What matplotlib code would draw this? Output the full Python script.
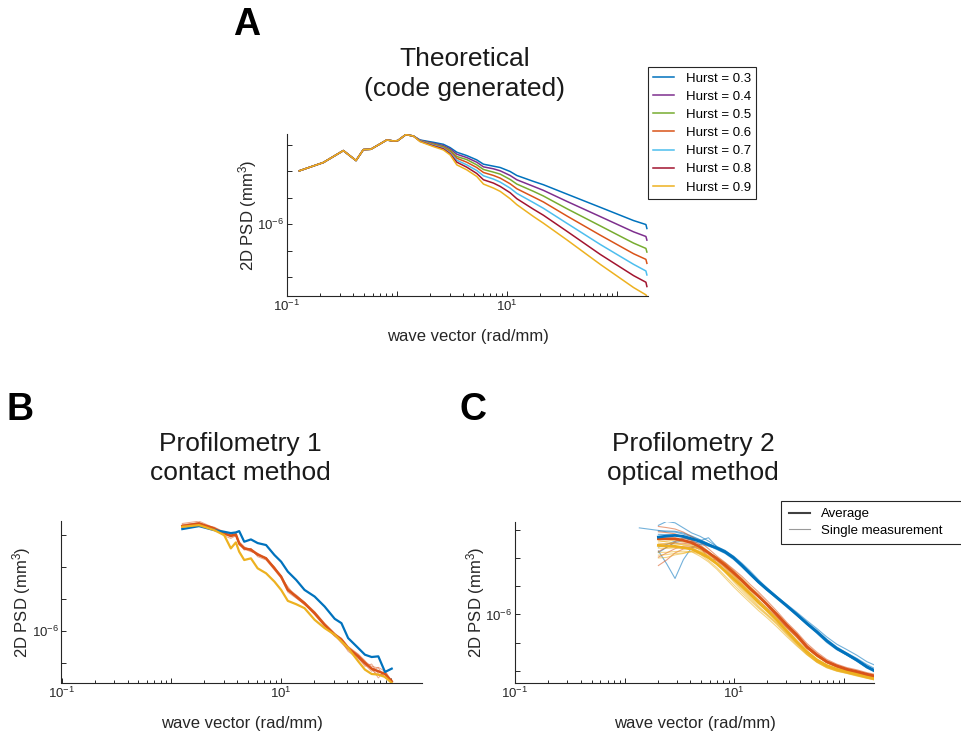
import matplotlib

matplotlib.use("Agg")
import matplotlib.pyplot as plt
import numpy as np
from matplotlib.lines import Line2D
from matplotlib.ticker import FixedFormatter, FixedLocator, NullFormatter, NullLocator

plt.rcParams["font.family"] = ["Liberation Sans", "DejaVu Sans"]

BLUE = "#0072BD"
ORANGE = "#D95319"
YELLOW = "#EDB120"
PURPLE = "#7E2F8E"
GREEN = "#77AC30"
CYAN = "#4DBEEE"
RED = "#A2142F"
INK = "#262626"

# ---- Panel A: theoretical spectra (log10 of q and of PSD) ----
hurst = [0.3, 0.4, 0.5, 0.6, 0.7, 0.8, 0.9]
hurst_colors = [BLUE, PURPLE, GREEN, ORANGE, CYAN, RED, YELLOW]

# low-q part, identical for every Hurst exponent
log_q_shared = [-0.888, -0.670, -0.488, -0.373, -0.306, -0.239, -0.155, -0.094,
                -0.033, 0.006, 0.079, 0.148]
log_psd_shared = [-3.981, -3.668, -3.217, -3.593, -3.179, -3.167, -2.966, -2.816,
                  -2.853, -2.841, -2.615, -2.665]

log_q_tail = [0.209, 0.330, 0.421, 0.482, 0.543, 0.633, 0.724, 0.785, 0.876, 0.937,
              1.027, 1.088, 1.240, 1.330, 1.542, 1.846, 2.149, 2.261, 2.270]
log_psd_h03 = [-2.816, -2.904, -2.979, -3.104, -3.279, -3.405, -3.568, -3.731, -3.806,
               -3.856, -4.006, -4.157, -4.382, -4.507, -4.858, -5.359, -5.861, -6.011,
               -6.161]
log_psd_h04 = [-2.828, -2.941, -3.029, -3.154, -3.355, -3.480, -3.655, -3.831, -3.906,
               -3.981, -4.157, -4.319, -4.570, -4.720, -5.134, -5.710, -6.287, -6.462,
               -6.600]
log_psd_h05 = [-2.841, -2.966, -3.066, -3.204, -3.442, -3.555, -3.756, -3.931, -4.031,
               -4.106, -4.307, -4.482, -4.758, -4.933, -5.410, -6.061, -6.713, -6.913,
               -7.051]
log_psd_h06 = [-2.853, -2.991, -3.104, -3.254, -3.505, -3.655, -3.856, -4.044, -4.157,
               -4.257, -4.470, -4.658, -4.971, -5.159, -5.685, -6.412, -7.114, -7.327,
               -7.477]
log_psd_h07 = [-2.853, -3.016, -3.129, -3.305, -3.580, -3.756, -3.969, -4.169, -4.294,
               -4.407, -4.633, -4.833, -5.184, -5.397, -5.961, -6.763, -7.515, -7.765,
               -7.916]
log_psd_h08 = [-2.866, -3.041, -3.154, -3.342, -3.655, -3.843, -4.081, -4.319, -4.445,
               -4.570, -4.808, -5.034, -5.435, -5.660, -6.262, -7.139, -7.941, -8.191,
               -8.354]
log_psd_h09 = [-2.879, -3.066, -3.192, -3.380, -3.756, -3.944, -4.194, -4.482, -4.633,
               -4.758, -5.034, -5.259, -5.710, -5.961, -6.587, -7.515, -8.392, -8.667,
               -8.730]
hurst_tails = [log_psd_h03, log_psd_h04, log_psd_h05, log_psd_h06, log_psd_h07,
               log_psd_h08, log_psd_h09]

# ---- Panel B: contact profilometry ----
log_q_contact = [0.100, 0.252, 0.390, 0.481, 0.542, 0.588, 0.618, 0.664, 0.725, 0.786,
                 0.863, 0.939, 1.000, 1.061, 1.137, 1.213, 1.305, 1.396, 1.488, 1.549,
                 1.610, 1.702, 1.763, 1.824, 1.885, 1.946, 2.007]
contact_blue = [-2.827, -2.734, -2.859, -2.910, -2.952, -2.931, -2.890, -3.221, -3.149,
                -3.263, -3.325, -3.636, -3.844, -4.155, -4.414, -4.725, -4.932, -5.243,
                -5.627, -5.762, -6.228, -6.539, -6.747, -6.819, -6.798, -7.286, -7.182]
contact_orange = [-2.734, -2.651, -2.807, -2.962, -3.035, -2.993, -3.273, -3.429, -3.470,
                  -3.615, -3.740, -4.051, -4.310, -4.725, -4.932, -5.140, -5.451, -5.813,
                  -6.124, -6.280, -6.539, -6.798, -7.006, -7.182, -7.265, -7.348, -7.576]
contact_yellow = [-2.755, -2.703, -2.859, -3.014, -3.429, -3.242, -3.532, -3.792, -3.740,
                  -4.051, -4.206, -4.466, -4.725, -5.067, -5.171, -5.295, -5.658, -5.917,
                  -6.124, -6.332, -6.539, -6.954, -7.213, -7.348, -7.369, -7.441, -7.628]
contact_orange_runs = [
    [-2.651, -2.579, -2.786, -2.993, -3.066, -3.014, -3.304, -3.408, -3.512, -3.636,
     -3.719, -4.030, -4.279, -4.673, -4.880, -5.108, -5.399, -5.762, -6.073, -6.249,
     -6.518, -6.747, -6.954, -7.109, -7.161, -7.472, -7.555],
    [-2.703, -2.620, -2.827, -3.035, -3.118, -3.035, -3.242, -3.481, -3.429, -3.688,
     -3.792, -4.103, -4.362, -4.797, -4.984, -5.171, -5.502, -5.865, -6.176, -6.332,
     -6.643, -6.871, -7.058, -7.265, -7.141, -7.265, -7.628],
    [-2.786, -2.703, -2.848, -2.931, -3.014, -2.962, -3.325, -3.450, -3.532, -3.584,
     -3.761, -3.999, -4.341, -4.621, -4.963, -5.191, -5.419, -5.793, -6.145, -6.384,
     -6.591, -6.829, -7.109, -7.037, -7.348, -7.420, -7.524],
    [-2.755, -2.672, -2.765, -2.910, -3.076, -2.983, -3.221, -3.377, -3.491, -3.636,
     -3.719, -4.072, -4.289, -4.756, -4.901, -5.108, -5.482, -5.834, -6.104, -6.228,
     -6.487, -6.726, -6.933, -7.213, -7.389, -7.327, -7.597],
    [-2.682, -2.641, -2.807, -2.973, -2.993, -3.056, -3.284, -3.429, -3.450, -3.657,
     -3.740, -4.051, -4.320, -4.694, -4.922, -5.150, -5.461, -5.813, -6.145, -6.311,
     -6.560, -6.850, -7.037, -7.161, -7.472, -7.244, -7.576],
]

# ---- Panel C: optical profilometry ----
log_q_optical = [0.309, 0.385, 0.461, 0.537, 0.613, 0.690, 0.766, 0.842, 0.918, 0.994,
                 1.070, 1.146, 1.222, 1.298, 1.390, 1.481, 1.572, 1.664, 1.755, 1.846,
                 1.938, 2.029, 2.120, 2.212, 2.282]
log_q_optical_long = [0.135] + log_q_optical

optical_blue_avg = [-3.247, -3.212, -3.188, -3.223, -3.306, -3.401, -3.519, -3.637, -3.779,
                    -3.980, -4.252, -4.547, -4.843, -5.103, -5.398, -5.694, -6.001, -6.320,
                    -6.616, -6.935, -7.207, -7.408, -7.620, -7.857, -7.999]
optical_orange_avg = [-3.306, -3.306, -3.306, -3.365, -3.448, -3.602, -3.803, -4.015,
                      -4.252, -4.512, -4.784, -5.079, -5.351, -5.635, -6.001, -6.379,
                      -6.734, -7.148, -7.443, -7.680, -7.833, -7.951, -8.034, -8.129,
                      -8.188]
optical_yellow_avg = [-3.543, -3.566, -3.578, -3.625, -3.673, -3.814, -3.980, -4.193,
                      -4.453, -4.725, -4.996, -5.280, -5.576, -5.847, -6.202, -6.592,
                      -6.970, -7.325, -7.620, -7.821, -7.951, -8.034, -8.117, -8.211,
                      -8.271]

optical_blue_runs = [
    [-2.83, -2.69, -2.74, -2.92, -3.10, -3.22, -3.39, -3.58, -3.73, -3.92, -4.17, -4.45,
     -4.76, -5.05, -5.36, -5.64, -5.92, -6.22, -6.50, -6.80, -7.06, -7.25, -7.45, -7.68,
     -7.80],
    [-3.74, -4.20, -4.72, -4.05, -3.62, -3.50, -3.57, -3.66, -3.80, -3.99, -4.26, -4.56,
     -4.85, -5.11, -5.40, -5.70, -6.01, -6.33, -6.63, -6.95, -7.22, -7.42, -7.63, -7.87,
     -8.01],
    [-3.15, -3.16, -3.17, -3.25, -3.36, -3.38, -3.27, -3.59, -3.72, -3.94, -4.23, -4.55,
     -4.86, -5.13, -5.42, -5.69, -5.99, -6.30, -6.62, -6.96, -7.23, -7.44, -7.65, -7.90,
     -8.03],
    [-3.60, -3.51, -3.39, -3.30, -3.33, -3.40, -3.55, -3.69, -3.83, -4.04, -4.31, -4.60,
     -4.87, -5.12, -5.44, -5.74, -6.04, -6.35, -6.64, -6.96, -7.24, -7.45, -7.67, -7.91,
     -8.05],
    [-3.80, -3.61, -3.44, -3.37, -3.41, -3.46, -3.54, -3.62, -3.75, -3.96, -4.22, -4.51,
     -4.79, -5.04, -5.35, -5.66, -5.98, -6.32, -6.63, -6.95, -7.21, -7.39, -7.59, -7.84,
     -7.98],
    [-3.03, -3.03, -3.04, -3.10, -3.21, -3.34, -3.48, -3.64, -3.80, -4.01, -4.27, -4.55,
     -4.82, -5.07, -5.38, -5.69, -6.02, -6.36, -6.67, -7.00, -7.26, -7.45, -7.65, -7.89,
     -8.02],
]
# one blue run starts at a lower wave vector
optical_blue_run_long = [-2.92, -3.01, -3.06, -3.07, -3.14, -3.24, -3.35, -3.49, -3.62,
                         -3.76, -3.95, -4.21, -4.51, -4.81, -5.09, -5.40, -5.67, -5.96,
                         -6.27, -6.56, -6.88, -7.16, -7.37, -7.56, -7.78, -7.92]

optical_orange_runs = [
    [-2.87, -2.91, -2.96, -3.07, -3.23, -3.42, -3.66, -3.92, -4.15, -4.39, -4.64, -4.93,
     -5.20, -5.50, -5.88, -6.28, -6.63, -7.03, -7.34, -7.60, -7.77, -7.89, -7.97, -8.07,
     -8.13],
    [-3.06, -3.09, -3.13, -3.25, -3.35, -3.52, -3.76, -4.04, -4.30, -4.57, -4.83, -5.12,
     -5.37, -5.64, -5.98, -6.35, -6.71, -7.15, -7.46, -7.70, -7.84, -7.95, -8.03, -8.12,
     -8.19],
    [-3.96, -3.81, -3.66, -3.57, -3.57, -3.65, -3.80, -3.97, -4.17, -4.43, -4.72, -5.04,
     -5.33, -5.64, -6.03, -6.43, -6.79, -7.20, -7.48, -7.71, -7.86, -7.98, -8.07, -8.17,
     -8.23],
    [-4.26, -4.06, -3.81, -3.67, -3.60, -3.68, -3.86, -4.10, -4.35, -4.63, -4.92, -5.23,
     -5.49, -5.76, -6.10, -6.46, -6.79, -7.19, -7.47, -7.72, -7.88, -8.00, -8.08, -8.18,
     -8.24],
    [-3.76, -3.61, -3.41, -3.27, -3.37, -3.60, -4.00, -4.07, -4.27, -4.51, -4.75, -5.02,
     -5.27, -5.58, -5.95, -6.34, -6.68, -7.09, -7.39, -7.65, -7.81, -7.93, -8.01, -8.11,
     -8.17],
    [-3.51, -3.49, -3.46, -3.47, -3.50, -3.60, -3.78, -3.98, -4.19, -4.46, -4.74, -5.06,
     -5.35, -5.68, -6.08, -6.48, -6.83, -7.21, -7.47, -7.70, -7.85, -7.98, -8.06, -8.15,
     -8.21],
]

optical_yellow_runs = [
    [-3.36, -3.42, -3.46, -3.53, -3.57, -3.67, -3.80, -3.97, -4.20, -4.46, -4.72, -5.00,
     -5.32, -5.61, -5.98, -6.39, -6.79, -7.18, -7.50, -7.72, -7.87, -7.96, -8.05, -8.14,
     -8.21],
    [-3.64, -3.65, -3.63, -3.65, -3.67, -3.86, -4.08, -4.33, -4.63, -4.93, -5.22, -5.50,
     -5.78, -6.03, -6.36, -6.73, -7.09, -7.43, -7.70, -7.89, -8.01, -8.09, -8.17, -8.26,
     -8.32],
    [-3.49, -3.47, -3.50, -3.51, -3.52, -3.71, -3.93, -4.19, -4.49, -4.79, -5.08, -5.38,
     -5.70, -5.97, -6.30, -6.67, -7.03, -7.37, -7.65, -7.84, -7.97, -8.06, -8.15, -8.25,
     -8.31],
    [-3.89, -3.87, -3.83, -3.81, -3.77, -3.86, -3.98, -4.17, -4.41, -4.68, -4.94, -5.23,
     -5.54, -5.83, -6.20, -6.61, -7.01, -7.38, -7.67, -7.86, -7.99, -8.07, -8.16, -8.24,
     -8.30],
    [-3.42, -3.39, -3.36, -3.43, -3.45, -3.57, -3.76, -4.01, -4.30, -4.61, -4.90, -5.20,
     -5.52, -5.79, -6.14, -6.54, -6.93, -7.29, -7.58, -7.79, -7.92, -8.00, -8.09, -8.19,
     -8.25],
    [-3.79, -3.79, -3.76, -3.75, -3.77, -3.93, -4.13, -4.39, -4.70, -5.01, -5.30, -5.58,
     -5.86, -6.11, -6.44, -6.79, -7.12, -7.43, -7.69, -7.88, -8.01, -8.09, -8.18, -8.27,
     -8.33],
    [-3.54, -3.59, -3.58, -3.61, -3.63, -3.76, -3.90, -4.07, -4.31, -4.58, -4.86, -5.16,
     -5.48, -5.77, -6.14, -6.55, -6.94, -7.31, -7.62, -7.82, -7.95, -8.03, -8.12, -8.21,
     -8.27],
    [-3.99, -3.97, -3.88, -3.83, -3.75, -3.79, -3.93, -4.17, -4.50, -4.83, -5.14, -5.44,
     -5.74, -6.00, -6.32, -6.69, -7.05, -7.41, -7.70, -7.90, -8.02, -8.10, -8.19, -8.27,
     -8.33],
]

X_RIGHT = 2.28  # log10 of the largest wave vector shown


def p10(values):
    return 10.0 ** np.asarray(values, dtype=float)


def style_axes(ax, log_ylim):
    ax.set_xscale("log")
    ax.set_yscale("log")
    ax.set_xlim(0.1, 10.0 ** X_RIGHT)
    ax.set_ylim(10.0 ** log_ylim[0], 10.0 ** log_ylim[1])
    for side in ("top", "right"):
        ax.spines[side].set_visible(False)
    for side in ("left", "bottom"):
        ax.spines[side].set_color(INK)
        ax.spines[side].set_linewidth(0.8)

    ax.xaxis.set_major_locator(FixedLocator([0.1, 1.0, 10.0, 100.0]))
    ax.xaxis.set_major_formatter(FixedFormatter(
        [r"$\mathregular{10^{-1}}$", "", r"$\mathregular{10^{1}}$", ""]))
    minor = [m * 10.0 ** k for k in range(-1, 3) for m in range(2, 10)]
    ax.xaxis.set_minor_locator(FixedLocator(minor))
    ax.xaxis.set_minor_formatter(NullFormatter())

    exps = list(range(-9, -1))
    ax.yaxis.set_major_locator(FixedLocator([10.0 ** k for k in exps]))
    ax.yaxis.set_major_formatter(FixedFormatter(
        [r"$\mathregular{10^{-6}}$" if k == -6 else "" for k in exps]))
    ax.yaxis.set_minor_locator(NullLocator())

    ax.tick_params(which="both", direction="in", colors=INK, labelsize=9.5,
                   width=0.7, pad=2)
    ax.tick_params(which="major", length=3.5)
    ax.tick_params(which="minor", length=2.5)
    ax.set_xlabel("wave vector (rad/mm)", fontsize=12, color=INK, labelpad=10.5)
    ax.set_ylabel(r"2D PSD (mm$\mathregular{^3}$)", fontsize=12, color=INK, labelpad=-1)


W, H = 962, 738
fig = plt.figure(figsize=(W / 100, H / 100), dpi=100)


def px_axes(left, top, right, bottom):
    return fig.add_axes([left / W, 1 - bottom / H, (right - left) / W, (bottom - top) / H])


# Panel A
ax_a = px_axes(287, 134, 648, 296.5)
for h, color, tail in zip(hurst, hurst_colors, hurst_tails):
    ax_a.plot(p10(log_q_shared + log_q_tail), p10(log_psd_shared + tail),
              color=color, lw=1.1, label=f"Hurst = {h}")
style_axes(ax_a, (-8.73, -2.59))
ax_a.legend(loc="upper left", bbox_to_anchor=(648 / W, 1 - 67 / H),
            bbox_transform=fig.transFigure, borderaxespad=0, fontsize=9.5,
            frameon=True, fancybox=False, edgecolor=INK, framealpha=1,
            handlelength=1.6, handletextpad=0.85, labelspacing=0.45,
            borderpad=0.4).get_frame().set_linewidth(0.8)

# Panel B
ax_b = px_axes(61.5, 520.7, 421.7, 683)
for run in contact_orange_runs:
    ax_b.plot(p10(log_q_contact), p10(run), color=ORANGE, lw=0.7, alpha=0.5)
ax_b.plot(p10(log_q_contact), p10(contact_orange), color=ORANGE, lw=1.8)
ax_b.plot(p10(log_q_contact), p10(contact_blue), color=BLUE, lw=1.6)
ax_b.plot(p10(log_q_contact), p10(contact_yellow), color=YELLOW, lw=1.6)
style_axes(ax_b, (-7.63, -2.565))

# Panel C
ax_c = px_axes(515, 521.7, 874.3, 683.3)
thin = dict(lw=0.8, alpha=0.55)
for run in optical_blue_runs:
    ax_c.plot(p10(log_q_optical), p10(run), color=BLUE, **thin)
ax_c.plot(p10(log_q_optical_long), p10(optical_blue_run_long), color=BLUE, **thin)
for run in optical_orange_runs:
    ax_c.plot(p10(log_q_optical), p10(run), color=ORANGE, **thin)
for run in optical_yellow_runs:
    ax_c.plot(p10(log_q_optical), p10(run), color=YELLOW, **thin)
ax_c.plot(p10(log_q_optical), p10(optical_yellow_avg), color=YELLOW, lw=2.0)
ax_c.plot(p10(log_q_optical), p10(optical_orange_avg), color=ORANGE, lw=2.0)
ax_c.plot(p10(log_q_optical), p10(optical_blue_avg), color=BLUE, lw=2.0)
style_axes(ax_c, (-8.45, -2.70))

legend_handles = [Line2D([], [], color="#404040", lw=1.5),
                  Line2D([], [], color="#9a9a9a", lw=0.8)]
ax_c.legend(legend_handles, ["Average", "Single measurement    "], loc="upper left",
            bbox_to_anchor=(781.5 / W, 1 - 501 / H), bbox_transform=fig.transFigure,
            borderaxespad=0, fontsize=9.5, frameon=True, fancybox=False,
            edgecolor=INK, framealpha=1, handlelength=1.6, handletextpad=0.85,
            labelspacing=0.3, borderpad=0.55).get_frame().set_linewidth(0.8)

# titles and panel letters
title_kw = dict(ha="center", va="center", fontsize=19, color="#1a1a1a", linespacing=1.3)
fig.text(465 / W, 1 - 74 / H, "Theoretical\n(code generated)", **title_kw)
fig.text(240 / W, 1 - 458.5 / H, "Profilometry 1\ncontact method", **title_kw)
fig.text(693 / W, 1 - 458.5 / H, "Profilometry 2\noptical method", **title_kw)

letter_kw = dict(ha="center", va="center", fontsize=27, fontweight="bold", color="black")
fig.text(247 / W, 1 - 25 / H, "A", **letter_kw)
fig.text(20 / W, 1 - 410 / H, "B", **letter_kw)
fig.text(473 / W, 1 - 410 / H, "C", **letter_kw)

fig.savefig("out.png", dpi=100)
